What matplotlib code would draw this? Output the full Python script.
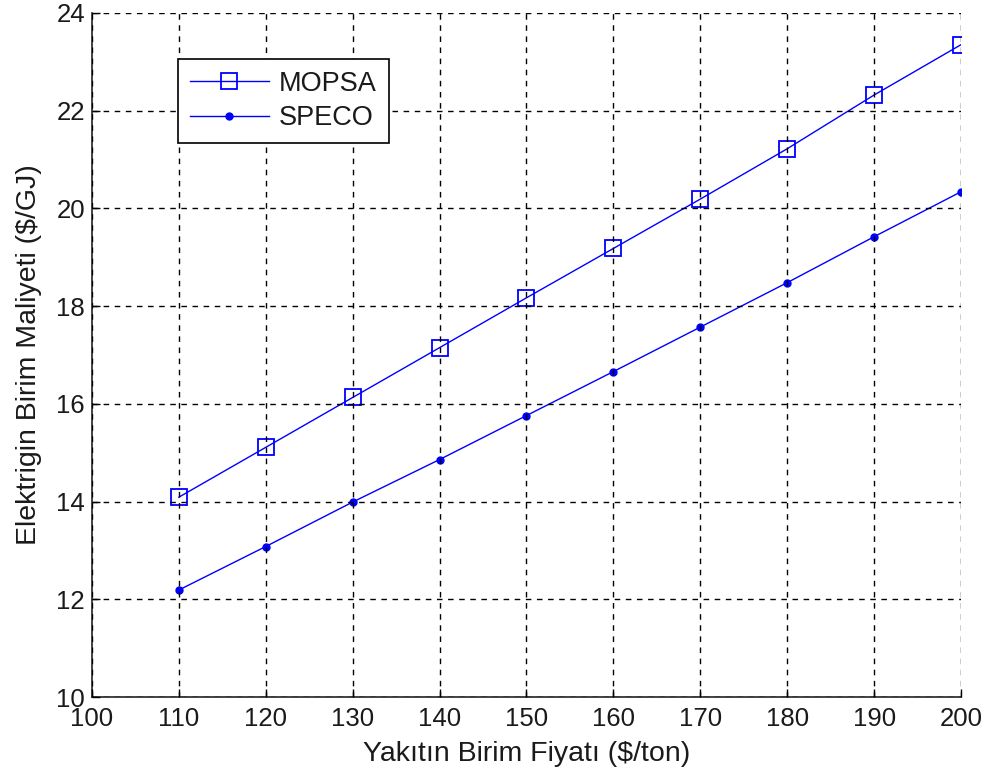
import matplotlib
matplotlib.use("Agg")
import matplotlib.pyplot as plt

fuel_price = [110, 120, 130, 140, 150, 160, 170, 180, 190, 200]
mopsa = [14.09, 15.11, 16.13, 17.15, 18.17, 19.18, 20.19, 21.22, 22.32, 23.35]
speco = [12.19, 13.08, 13.99, 14.86, 15.76, 16.66, 17.57, 18.48, 19.42, 20.34]
xticks = [100, 110, 120, 130, 140, 150, 160, 170, 180, 190, 200]
yticks = [10, 12, 14, 16, 18, 20, 22, 24]

plt.rcParams['font.family'] = ['Liberation Sans', 'DejaVu Sans']

fig = plt.figure(figsize=(9.91, 7.80), dpi=100)
ax = fig.add_axes([0.0928, 0.1064, 0.8769, 0.877])

ax.plot(fuel_price, mopsa, color=(0, 0, 1), lw=1.0, marker='s', ms=12,
        mfc='none', mec=(0, 0, 1), mew=1.3, label='MOPSA')
ax.plot(fuel_price, speco, color=(0, 0, 1), lw=1.0, marker='o', ms=5,
        mfc=(0, 0, 1), mec=(0, 0, 1), label='SPECO')

ax.set_xlim(100, 200)
ax.set_ylim(10, 24)
ax.set_xticks(xticks)
ax.set_yticks(yticks)
ax.tick_params(direction='in', length=6, labelsize=18.5, width=1.0, pad=5,
               labelcolor='#1a1a1a')
ax.tick_params(axis='x', pad=7.5)
ax.grid(True, color='black', linestyle=(0, (4, 4)), linewidth=1.0)
ax.set_axisbelow(False)
for s in ['top', 'right']:
    ax.spines[s].set_visible(False)
for s in ['left', 'bottom']:
    ax.spines[s].set_linewidth(1.2)
    ax.spines[s].set_color('#222222')

ax.set_xlabel('Yakıtın Birim Fiyatı ($/ton)', fontsize=20.5, labelpad=7,
              color='#1a1a1a')
ax.set_ylabel('Elektrigin Birim Maliyeti ($/GJ)', fontsize=20.5, labelpad=10,
              color='#1a1a1a')

leg = ax.legend(loc='upper left', bbox_to_anchor=(0.099, 0.933), fontsize=19.5,
                frameon=True, fancybox=False, framealpha=1, edgecolor='black',
                handlelength=2.9, handletextpad=0.37, borderpad=0.45,
                labelspacing=0.3, borderaxespad=0)
leg.get_frame().set_linewidth(1.2)
for t in leg.get_texts():
    t.set_color('#1a1a1a')

fig.savefig('out.png', dpi=100)
